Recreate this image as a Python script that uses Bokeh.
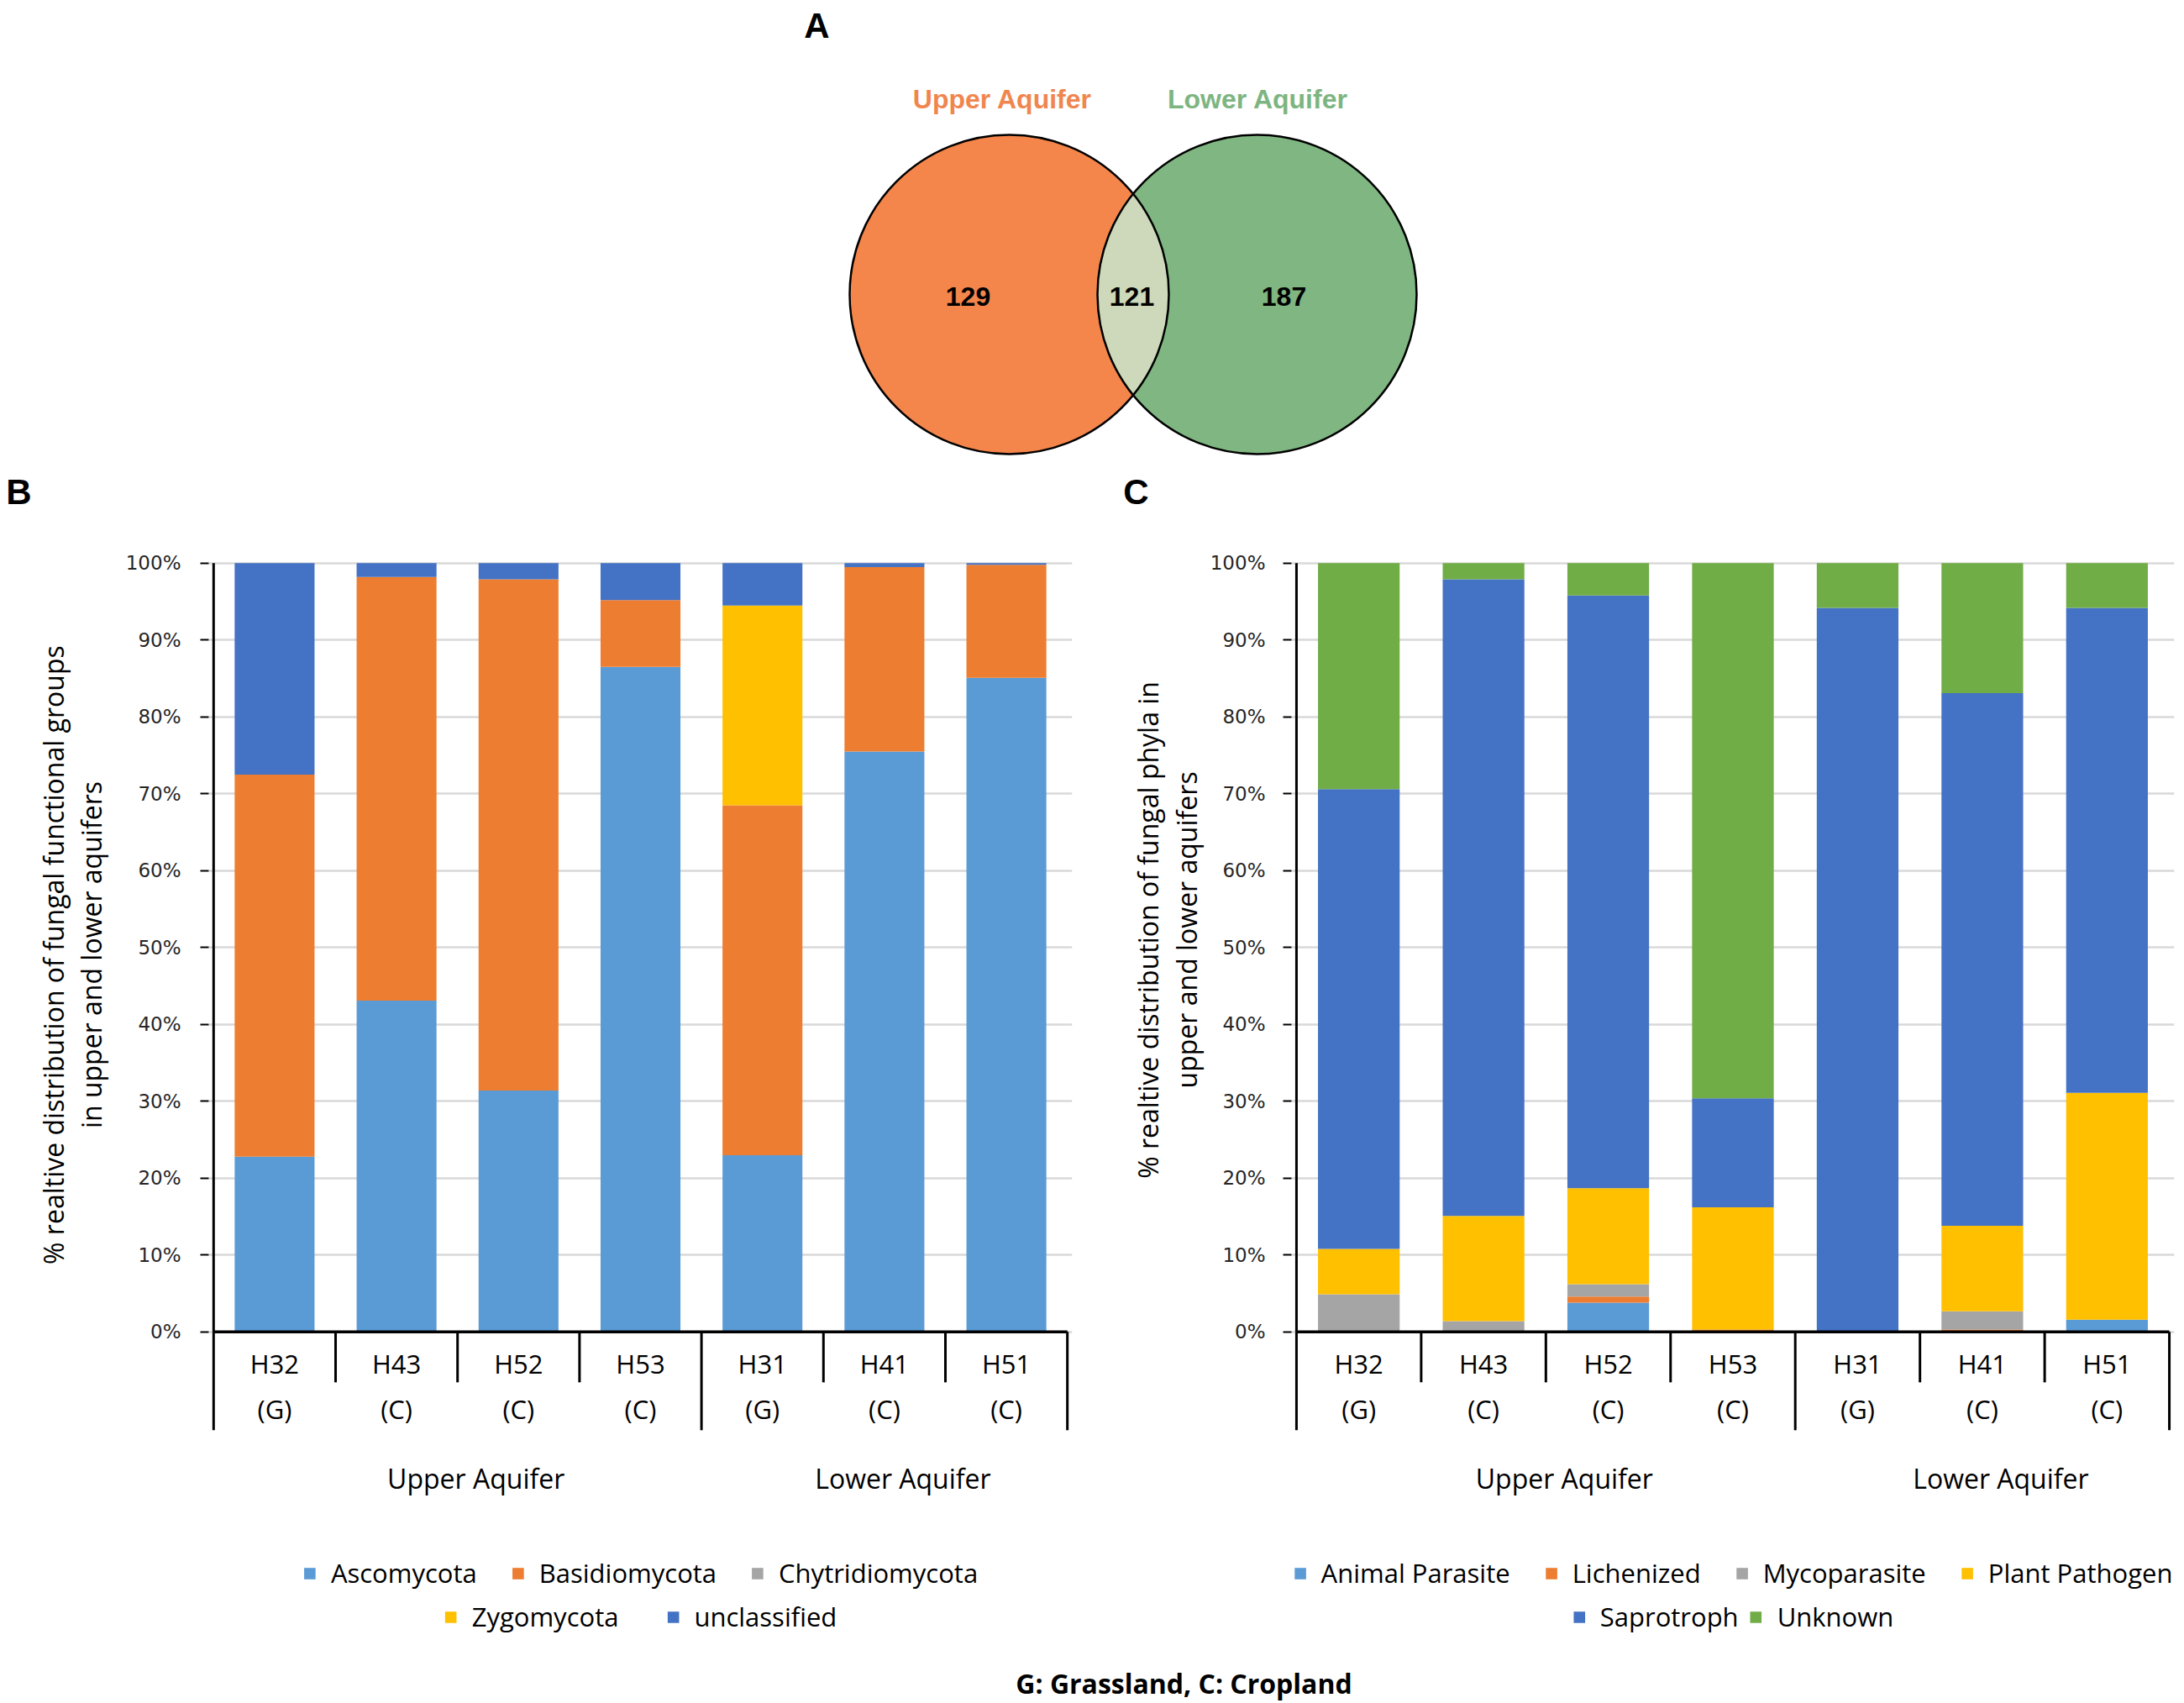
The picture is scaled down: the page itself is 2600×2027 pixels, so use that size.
import numpy as np
from math import pi
from bokeh.plotting import figure
from bokeh.models import (Range1d, FactorRange, FixedTicker, PrintfTickFormatter,
                          Legend, LegendItem, ColumnDataSource)
from bokeh.layouts import column, row
from bokeh.embed import file_html
from bokeh.resources import INLINE
from bokeh.core.properties import value

# ---------------- data ----------------
venn_sets = ["Upper Aquifer", "Lower Aquifer"]
venn_counts = [129, 121, 187]          # only upper, shared, only lower

samples = ["H32", "H43", "H52", "H53", "H31", "H41", "H51"]
land_use = ["(G)", "(C)", "(C)", "(C)", "(G)", "(C)", "(C)"]
groups = ["Upper Aquifer", "Lower Aquifer"]
group_sizes = [4, 3]
pct_ticks = [0, 10, 20, 30, 40, 50, 60, 70, 80, 90, 100]

phyla_names = ["Ascomycota", "Basidiomycota", "Chytridiomycota", "Zygomycota", "unclassified"]
ascomycota = [22.8, 43.1, 31.4, 86.5, 23.0, 75.5, 85.1]
basidiomycota = [49.7, 55.1, 66.5, 8.7, 45.5, 24.0, 14.7]
chytridiomycota = [0.0, 0.0, 0.0, 0.0, 0.0, 0.0, 0.0]
zygomycota = [0.0, 0.0, 0.0, 0.0, 26.0, 0.0, 0.0]
unclassified = [27.5, 1.8, 2.1, 4.8, 5.5, 0.5, 0.2]
phyla_colors = ["#5B9BD5", "#ED7D31", "#A5A5A5", "#FFC000", "#4472C4"]
title_B = ["% realtive distribution of fungal functional groups", "in upper and lower aquifers"]

guild_names = ["Animal Parasite", "Lichenized", "Mycoparasite", "Plant Pathogen", "Saprotroph", "Unknown"]
animal_parasite = [0.0, 0.0, 3.8, 0.0, 0.0, 0.0, 1.6]
lichenized = [0.0, 0.0, 0.8, 0.3, 0.0, 0.3, 0.0]
mycoparasite = [4.9, 1.4, 1.6, 0.0, 0.0, 2.4, 0.0]
plant_pathogen = [5.9, 13.7, 12.5, 15.9, 0.0, 11.1, 29.5]
saprotroph = [59.8, 82.8, 77.1, 14.2, 94.2, 69.3, 63.1]
unknown = [29.4, 2.1, 4.2, 69.6, 5.8, 16.9, 5.8]
guild_colors = ["#5B9BD5", "#ED7D31", "#A5A5A5", "#FFC000", "#4472C4", "#70AD47"]
title_C = ["% realtive distribution of fungal phyla in", "upper and lower aquifers"]

footer_note = "G: Grassland, C: Cropland"

# ---------------- layout constants (page pixels) ----------------
PAGE_W = 2598
VENN_H = 610
PANEL_H = 1355
FOOT_H = 60
FONT = "Open Sans"
TICK_FONT = "DejaVu Sans"
VENN_FONT = "Liberation Sans"
K = 9.15            # pixels per percent
Y_END = 100.2
TOP_BORDER = 58


def bare_fig(w, h):
    f = figure(width=w, height=h, x_range=Range1d(0, w), y_range=Range1d(0, h),
               x_axis_location=None, y_axis_location=None, min_border=0,
               toolbar_location=None, output_backend="svg")
    f.grid.visible = False
    f.outline_line_color = None
    return f


# ---------------- panel A: Venn ----------------
venn = bare_fig(PAGE_W, VENN_H)
r = 190.0
cx = [1201.0, 1496.0]
cy = 260.0
venn.circle(x=[cx[0]], y=[cy], radius=r, fill_color="#F4854B", line_color=None)
venn.circle(x=[cx[1]], y=[cy], radius=r, fill_color="#7FB681", line_color=None)
d = cx[1] - cx[0]
th = np.arccos(d / 2 / r)
a1 = np.linspace(-th, th, 80)
a2 = np.linspace(pi - th, pi + th, 80)
lx = np.concatenate([cx[0] + r * np.cos(a1), cx[1] + r * np.cos(a2)])
ly = np.concatenate([cy + r * np.sin(a1), cy + r * np.sin(a2)])
venn.patch(lx, ly, fill_color="#CDD9BA", line_color=None)
venn.circle(x=cx, y=[cy, cy], radius=r, fill_alpha=0, line_color="black", line_width=2.5)

venn.text(x=[cx[0] - 8, cx[1] + 1], y=[493, 493], text=venn_sets,
          text_color=["#F0864E", "#7DB581"], text_font=value(VENN_FONT),
          text_font_style="bold", text_font_size="32px",
          text_align="center", text_baseline="middle")
venn.text(x=[1152, 1347, 1528], y=[258, 258, 258], text=[str(v) for v in venn_counts],
          text_color="black", text_font=value(VENN_FONT), text_font_style="bold",
          text_font_size="32px", text_align="center", text_baseline="middle")
venn.text(x=[972, 22, 1352], y=[580, 25, 25], text=["A", "B", "C"],
          text_color="black", text_font=value(VENN_FONT), text_font_style="bold",
          text_font_size="42px", text_align="center", text_baseline="middle")


# ---------------- y titles (narrow side figures) ----------------
def title_fig(w, lines, xs, yc):
    f = bare_fig(w, PANEL_H)
    f.text(x=xs, y=[yc] * len(lines), text=lines, angle=pi / 2,
           text_font=value(FONT), text_font_size="32px", text_color="black",
           text_align="center", text_baseline="middle")
    return f


# ---------------- stacked bar panels ----------------
def panel(width, names, vals, colors, left_px, right_px, legend_rows, standoff):
    frame_h = PANEL_H - TOP_BORDER
    y_start = Y_END - frame_h / K
    data = {"sample": samples}
    keys = ["s%d" % i for i in range(len(names))]
    for k_, v in zip(keys, vals):
        data[k_] = v
    src = ColumnDataSource(data)
    p = figure(width=width, height=PANEL_H,
               x_range=FactorRange(factors=samples, range_padding=0.04,
                                   range_padding_units="absolute"),
               y_range=Range1d(y_start, Y_END),
               x_axis_location=None, y_axis_location="left",
               min_border_left=left_px, min_border_right=right_px,
               min_border_top=TOP_BORDER, min_border_bottom=0,
               toolbar_location=None, output_backend="svg")
    p.outline_line_color = None
    p.xgrid.visible = False
    p.ygrid.ticker = FixedTicker(ticks=pct_ticks)
    p.ygrid.grid_line_color = "#D9D9D9"
    p.ygrid.grid_line_width = 2.5
    ax = p.yaxis[0]
    ax.ticker = FixedTicker(ticks=pct_ticks, minor_ticks=[])
    ax.formatter = PrintfTickFormatter(format="%d%%")
    ax.axis_line_color = None
    ax.major_tick_out = 10
    ax.major_tick_in = 0
    ax.minor_tick_out = 0
    ax.minor_tick_in = 0
    ax.major_tick_line_width = 2
    ax.major_tick_line_color = "black"
    ax.major_label_standoff = standoff
    ax.major_label_text_font = TICK_FONT
    ax.major_label_text_font_size = "23px"
    ax.major_label_text_color = "#262626"

    rends = p.vbar_stack(keys, x="sample", width=0.655, source=src,
                         fill_color=colors, line_color=None)

    n = len(samples)
    y_inner = -(1645 - 1585) / K
    y_outer = -(1702 - 1585) / K
    bounds = np.cumsum([0] + group_sizes)
    outer = [float(b) for b in bounds]
    inner = [float(i) for i in range(1, n) if i not in bounds]
    p.segment(x0=inner, y0=[0] * len(inner), x1=inner, y1=[y_inner] * len(inner),
              line_color="black", line_width=3)
    p.segment(x0=outer, y0=[y_outer] * len(outer), x1=outer, y1=[0] * len(outer),
              line_color="black", line_width=3)
    # vertical value axis line
    p.segment(x0=[0.0], y0=[0], x1=[0.0], y1=[100], line_color="black", line_width=3)
    # category axis line at 0 %
    p.segment(x0=[0.0], y0=[0], x1=[float(n)], y1=[0], line_color="black", line_width=3.5)

    p.text(x=samples, y=[-(1623 - 1585) / K] * n, text=samples, text_font=value(FONT),
           text_font_size="31px", text_color="black", text_align="center",
           text_baseline="middle")
    p.text(x=samples, y=[-(1677 - 1585) / K] * n, text=land_use, text_font=value(FONT),
           text_font_size="31px", text_color="black", text_align="center",
           text_baseline="middle")
    centers = [(bounds[i] + bounds[i + 1]) / 2 for i in range(len(groups))]
    p.text(x=centers, y=[-(1759 - 1585) / K] * len(groups), text=groups,
           text_font=value(FONT), text_font_size="32px", text_color="black",
           text_align="center", text_baseline="middle", x_offset=22)

    for idxs, margin, spacing in legend_rows:
        items = [LegendItem(label=names[i], renderers=[rends[i]]) for i in idxs]
        lg = Legend(items=items, location="bottom_center", orientation="horizontal",
                    margin=margin, padding=0, spacing=spacing, label_standoff=17,
                    glyph_width=17, glyph_height=17, label_text_font=FONT,
                    label_text_font_size="31px", label_text_color="black",
                    border_line_alpha=0, background_fill_alpha=0)
        p.add_layout(lg)
    return p


TITLE_SHIFT = 35
# B: title figure spans x 0..140, panel 140..1300 (frame 251..1273)
tB = title_fig(140, title_B, [63, 108], PANEL_H - (1134 - TITLE_SHIFT - VENN_H))
pB = panel(1160, phyla_names,
           [ascomycota, basidiomycota, chytridiomycota, zygomycota, unclassified],
           phyla_colors, 251 - 140 - 3, 1300 - 1273 - 3,
           [([0, 1, 2], 72, 40), ([3, 4], 20, 56)], 23)

# C: title figure spans x 1300..1436, panel 1436..2598 (frame 1540..2585)
tC = title_fig(136, title_C, [66, 112], PANEL_H - (1103 - TITLE_SHIFT - VENN_H))
pC = panel(1162, guild_names,
           [animal_parasite, lichenized, mycoparasite, plant_pathogen, saprotroph, unknown],
           guild_colors, 1540 - 1436 - 3, 2598 - 2585 - 3,
           [([0, 1, 2, 3], 72, 40), ([4, 5], 20, 12)], 21)

# ---------------- footer ----------------
foot = bare_fig(PAGE_W, FOOT_H)
foot.text(x=[1409], y=[FOOT_H - (2003 - VENN_H - PANEL_H)], text=[footer_note],
          text_font=value(FONT), text_font_style="bold", text_font_size="32px",
          text_color="black", text_align="center", text_baseline="middle")

layout = column(venn, row(tB, pB, tC, pC, spacing=0), foot, spacing=0)
open("out.html", "w").write(file_html(layout, INLINE))
